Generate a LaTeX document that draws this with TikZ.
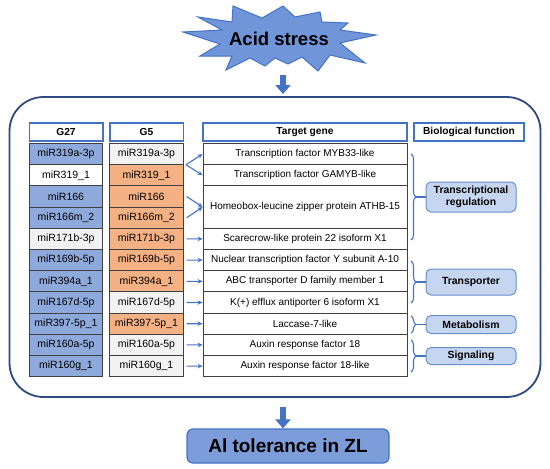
\documentclass[tikz,border=0pt]{standalone}
\usepackage{fontspec}
\setmainfont{Liberation Sans}
\usetikzlibrary{arrows.meta,decorations.pathreplacing,calc}
\definecolor{cblue}{HTML}{8EA9DB}
\definecolor{corange}{HTML}{F4B183}
\definecolor{cgray}{HTML}{F2F2F2}
\definecolor{cwhite}{HTML}{FFFFFF}
\definecolor{accent}{HTML}{4472C4}
\definecolor{burstfill}{HTML}{7095D9}
\definecolor{navy}{HTML}{2F4A80}
\definecolor{biofill}{HTML}{C7D6F0}
\definecolor{altfill}{HTML}{7D9DDA}
\definecolor{cellline}{HTML}{404040}
\begin{document}
\begin{tikzpicture}[x=1pt,y=-1pt,
 cell/.style={draw=cellline, line width=0.9pt, minimum width=73.5pt, minimum height=21.2pt, inner sep=0pt, font=\fontsize{10.5}{12}\selectfont},
 gene/.style={draw=cellline, line width=0.9pt, minimum width=204pt, minimum height=21.2pt, inner sep=0pt, fill=white, font=\fontsize{10}{12}\selectfont},
 header/.style={draw=accent, line width=1.5pt, fill=white, minimum height=18pt, inner sep=0pt, font=\bfseries\fontsize{10.2}{12}\selectfont},
 func/.style={draw=accent!80, fill=biofill, line width=1pt, rounded corners=5pt, minimum width=90pt, inner sep=0pt, align=center, font=\bfseries\fontsize{10.4}{12.5}\selectfont},
 link/.style={draw=accent, line width=1.1pt, -{Stealth[length=5pt,width=4.5pt]}},
 blockarrow/.style={draw=accent, line width=6pt, -{Triangle[length=9pt,width=15pt]}},
 bracestyle/.style={draw=accent, line width=1.1pt, decorate, decoration={brace, amplitude=5pt}},
 tick/.style={draw=accent, line width=1.1pt},
]
\useasboundingbox (0,0) rectangle (550,469);
\fill[white] (0,0) rectangle (550,469);

% starburst
\draw[fill=burstfill, draw=accent, line width=1pt, line join=miter]
 (183,32) -- (222,30) -- (198,17) -- (232,22) -- (233,6) -- (262,18) -- (283,6) -- (295,17)
 -- (320,12) -- (322,22) -- (348,23) -- (340,30) -- (376,35) -- (340,43) -- (365,63)
 -- (330,55) -- (318,71) -- (302,57) -- (288,64) -- (275,58) -- (265,66) -- (250,58)
 -- (226,70) -- (232,56) -- (200,56) -- (220,44) -- cycle;
\node (acid) at (279,39) {\bfseries\fontsize{18.5}{20}\selectfont Acid stress};

% outer box
\node[draw=navy, line width=1.8pt, rounded corners=34pt, minimum width=531pt, minimum height=300pt, inner sep=0pt] (outer) at (275,247) {};

\coordinate (s1) at (283,75);
\coordinate (s2) at (283,94);
\draw[blockarrow] (s1) -- (s2);

% headers
\node[header, minimum width=73.5pt] (h1) at (66,132) {G27};
\node[header, minimum width=73.5pt] (h2) at (146.5,132) {G5};
\node[header, minimum width=204pt] (h3) at (305,132) {Target gene};
\node[header, minimum width=110pt] (h4) at (469,132) {Biological function};

% miRNA cells
\foreach \i/\nm/\ca/\cb in {1/miR319a-3p/cblue/cgray, 2/miR319\_1/cwhite/corange, 3/miR166/cblue/corange, 4/miR166m\_2/cblue/corange, 5/miR171b-3p/cgray/corange, 6/miR169b-5p/cblue/corange, 7/miR394a\_1/cblue/corange, 8/miR167d-5p/cblue/cgray, 9/miR397-5p\_1/cblue/corange, 10/miR160a-5p/cblue/cgray, 11/miR160g\_1/cblue/cgray}{
 \node[cell, fill=\ca] (a\i) at (66, {143.5+(\i-0.5)*21.2}) {\nm};
 \node[cell, fill=\cb] (b\i) at (146.5, {143.5+(\i-0.5)*21.2}) {\nm};
}

% target genes
\node[gene] (t1) at (305,154.1) {Transcription factor MYB33-like};
\node[gene] (t2) at (305,175.3) {Transcription factor GAMYB-like};
\node[gene, minimum height=42.4pt] (t34) at (305,207.1) {Homeobox-leucine zipper protein ATHB-15};
\node[gene] (t5) at (305,238.9) {Scarecrow-like protein 22 isoform X1};
\node[gene] (t6) at (305,260.1) {Nuclear transcription factor Y subunit A-10};
\node[gene] (t7) at (305,281.3) {ABC transporter D family member 1};
\node[gene] (t8) at (305,302.5) {K(+) efflux antiporter 6 isoform X1};
\node[gene] (t9) at (305,323.7) {Laccase-7-like};
\node[gene] (t10) at (305,344.9) {Auxin response factor 18};
\node[gene] (t11) at (305,366.1) {Auxin response factor 18-like};

% links
\coordinate (f1) at (186,164.7);
\draw[link] (f1) -- (t1.west);
\draw[link] (f1) -- (t2.west);
\draw[link] ($(b3.east)+(3,0)$) -- (t34.west);
\draw[link] ($(b4.east)+(3,0)$) -- (t34.west);
\foreach \i in {5,...,11}{
 \draw[link] ($(b\i.east)+(3,0)$) -- (t\i.west);
}

% biological functions
\node[func, minimum height=30pt] (TR) at (471,197) {Transcriptional\\regulation};
\node[func, minimum height=26pt] (TP) at (471,282) {Transporter};
\node[func, minimum height=18pt] (ME) at (471,324.5) {Metabolism};
\node[func, minimum height=17pt] (SG) at (471,356) {Signaling};

\draw[bracestyle] (411,154) -- (411,240);
\coordinate (k1) at (416,197);
\draw[tick] (k1) -- (TR.west);
\draw[bracestyle] (411,261) -- (411,303);
\coordinate (k2) at (416,282);
\draw[tick] (k2) -- (TP.west);
\draw[bracestyle] (411,316) -- (411,333);
\coordinate (k3) at (416,324.5);
\draw[tick] (k3) -- (ME.west);
\draw[bracestyle] (411,340) -- (411,372);
\coordinate (k4) at (416,356);
\draw[tick] (k4) -- (SG.west);

% bottom
\node[draw=accent, fill=altfill, line width=1.2pt, rounded corners=6pt, minimum width=202pt, minimum height=34pt, inner sep=0pt] (altol) at (288,446) {\bfseries\fontsize{19}{22}\selectfont Al tolerance in ZL};
\coordinate (s3) at (283,407);
\draw[blockarrow] (s3) -- (s3 |- altol.north);
\end{tikzpicture}
\end{document}
